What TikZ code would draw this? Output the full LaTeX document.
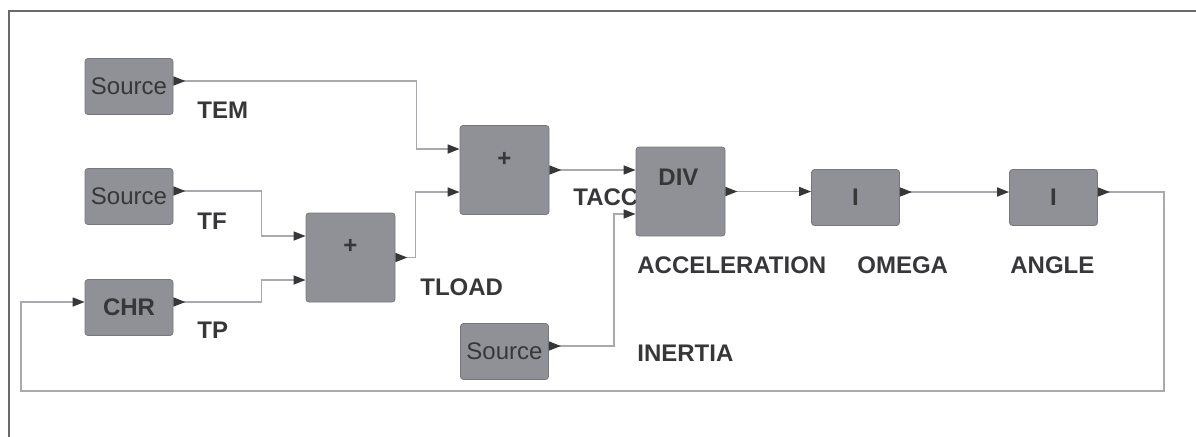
\documentclass[tikz,border=0pt]{standalone}
\usepackage{fontspec}
\setmainfont{Liberation Sans}
\usetikzlibrary{arrows.meta, positioning, calc}

\definecolor{blockgray}{RGB}{143,145,150}
\definecolor{blockedge}{RGB}{118,120,125}
\definecolor{wiregray}{RGB}{168,170,175}
\definecolor{inkgray}{RGB}{55,55,58}
\definecolor{framegray}{RGB}{105,105,105}

\begin{document}
\begin{tikzpicture}[
  x=0.5pt, y=-0.5pt,
  port/.tip={Triangle[length=6pt, width=4.5pt, color=inkgray]},
  block/.style={draw=blockedge, fill=blockgray, rounded corners=1.5pt, inner sep=0pt,
    text=inkgray, font=\fontsize{12}{14}\selectfont},
  srcbox/.style={block, minimum width=44pt, minimum height=28pt},
  sumbox/.style={block, minimum width=44.5pt, minimum height=44.5pt, font=\fontsize{12}{14}\selectfont\bfseries},
  wire/.style={draw=wiregray, line width=0.75pt, {port[reversed]}-{port}},
  sig/.style={anchor=west, inner sep=0pt, text=inkgray, font=\fontsize{12}{14}\selectfont\bfseries}]
  \useasboundingbox (0,0) rectangle (1196,436);
  \draw[framegray, line width=1pt] (9,11) rectangle (1220,460);
  % signal names
  \node[sig] (ltem)   at (197,110) {TEM};
  \node[sig] (ltf)    at (197,221) {TF};
  \node[sig] (ltp)    at (197,330) {TP};
  \node[sig] (ltload) at (420,287) {TLOAD};
  \node[sig] (ltacc)  at (573,197) {TACC};
  \node[sig] (lacc)   at (637,265) {ACCELERATION};
  \node[sig] (lomega) at (857,265) {OMEGA};
  \node[sig] (langle) at (1010,265) {ANGLE};
  \node[sig] (linert) at (637,353) {INERTIA};
  % blocks
  \node[srcbox] (temsrc) at (129,86.5)  {Source};
  \node[srcbox] (tfsrc)  at (129,196.5) {Source};
  \node[srcbox, font=\fontsize{12}{14}\selectfont\bfseries] (chr) at (129,307.5) {CHR};
  \node[srcbox] (inertia) at (504.5,351.5) {Source};
  \node[sumbox] (sumbot) at (350.5,257.5) {\raisebox{1.8pt}[0pt][0pt]{+}};
  \node[sumbox] (sumtop) at (504.5,170)   {\raisebox{1.8pt}[0pt][0pt]{+}};
  \node[sumbox] (div)    at (680.5,191.5) {\raisebox{3pt}[0pt][0pt]{DIV\kern2pt}};
  \node[srcbox, font=\fontsize{12}{14}\selectfont\bfseries] (inta) at (855.5,197.5)  {I};
  \node[srcbox, font=\fontsize{12}{14}\selectfont\bfseries] (intb) at (1053.5,197.5) {I};
  \coordinate (loopr) at (1164,391);
  \coordinate (loopl) at (21,391);
  % connections
  \draw[wire] ([yshift=2.75pt]temsrc.east) -- ++(243,0) |- ([yshift=10.5pt]sumtop.west);
  \draw[wire] ([yshift=2.75pt]tfsrc.east) -- ++(88,0) |- ([yshift=10.75pt]sumbot.west);
  \draw[wire] ([yshift=2.75pt]chr.east) -- ++(88,0) |- ([yshift=-11.25pt]sumbot.west);
  \draw[wire] (sumbot.east) -- ++(20,0) |- ([yshift=-11pt]sumtop.west);
  \draw[wire] (sumtop.east) -- (sumtop.east -| div.west);
  \draw[wire] ([yshift=2.75pt]inertia.east) -- ++(65,0) |- ([yshift=-11.25pt]div.west);
  \draw[wire] (div.east) -- (div.east -| inta.west);
  \draw[wire] ([yshift=2.75pt]inta.east) -- ([yshift=2.75pt]intb.west);
  \draw[wire] ([yshift=2.75pt]intb.east) -| (loopr) -- (loopl) |- ([yshift=2.75pt]chr.west);
\end{tikzpicture}
\end{document}
